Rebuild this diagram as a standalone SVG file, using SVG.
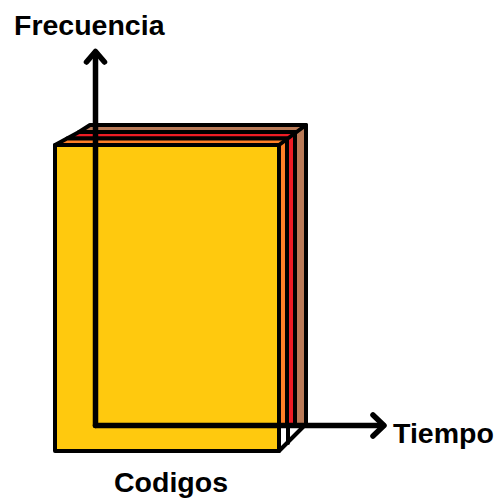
<svg xmlns="http://www.w3.org/2000/svg" width="495" height="499" viewBox="0 0 495 499">
<style>
.edge{stroke:#000;stroke-width:4;stroke-linejoin:round;stroke-linecap:round}
.axis{stroke:#000;stroke-width:5.5;fill:none;stroke-linecap:round;stroke-linejoin:round}
.lbl{font-family:"Liberation Sans",Arial,sans-serif;font-weight:bold;font-size:28.5px;fill:#000}
</style>
<rect width="495" height="499" fill="#fff"/>
<g id="box">
  <polygon class="edge" fill="#B97A57" points="79,132 90,125 306,125 306,426 295,426 295,132"/>
  <polygon class="edge" fill="#ED1C24" points="67,138.5 79,132 295,132 295,426 287,426 287,138.5"/>
  <polygon class="edge" fill="#FF7F27" points="55,145 67,138.5 287,138.5 287,426 279,426 279,145"/>
  <rect class="edge" fill="#FFC90E" x="55" y="145" width="224" height="306"/>
  <polyline class="edge" fill="none" points="279,145 306,125"/>
  <line class="edge" x1="288" y1="426" x2="288" y2="443"/>
  <line class="edge" x1="279" y1="451" x2="303" y2="427"/>
</g>
<g id="connectors">
  <line class="axis" x1="95.5" y1="425.5" x2="95.5" y2="52"/>
  <polyline class="axis" points="86.5,62 95.5,51.5 104.5,62"/>
  <line class="axis" x1="95.5" y1="425.5" x2="383" y2="425.5"/>
  <polyline class="axis" points="373,415 384,425.5 373,436"/>
</g>
<g id="labels">
  <text class="lbl" x="14" y="35">Frecuencia</text>
  <text class="lbl" x="393" y="443">Tiempo</text>
  <text class="lbl" x="114" y="492">Codigos</text>
</g>
</svg>
